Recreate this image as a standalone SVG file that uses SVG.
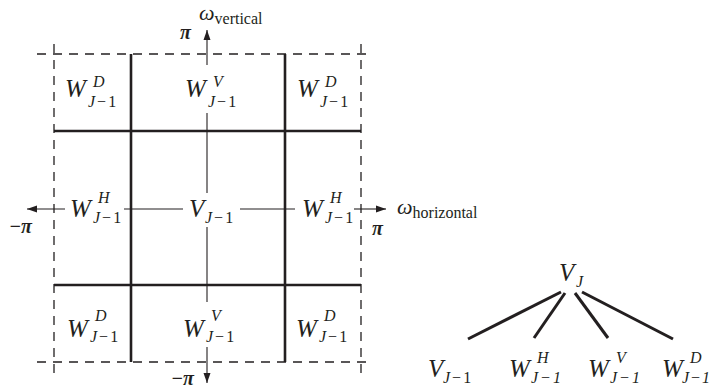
<svg xmlns="http://www.w3.org/2000/svg" width="712" height="388" viewBox="0 0 712 388">
<style>
.big{font-family:"Liberation Serif",serif;font-style:italic;font-size:25px;fill:#231f20}
.sm{font-family:"Liberation Serif",serif;font-style:italic;font-size:16px;fill:#231f20}
.rm{font-style:normal}
.txt{font-family:"Liberation Serif",serif;font-size:16px;fill:#231f20}
.pi{font-family:"Liberation Serif",serif;font-style:italic;font-weight:bold;font-size:20px;fill:#231f20}
.dash{stroke:#231f20;stroke-width:1.3;stroke-dasharray:9 7;fill:none}
.thick{stroke:#231f20;stroke-width:2.6;fill:none}
.axis{stroke:#231f20;stroke-width:1.1;fill:none}
.tree{stroke:#231f20;stroke-width:3;fill:none}
</style>
<defs>
<marker id="ah" viewBox="0 0 10 10" refX="10" refY="5" markerWidth="10" markerHeight="10" markerUnits="userSpaceOnUse" orient="auto">
<path d="M0,1.5 L10,5 L0,8.5 z" fill="#231f20"/>
</marker>
</defs>
<g id="grid">
<line class="dash" x1="37" y1="54" x2="368" y2="54"/>
<line class="dash" x1="37" y1="362" x2="368" y2="362"/>
<line class="dash" x1="54" y1="44" x2="54" y2="373"/>
<line class="dash" x1="361" y1="44" x2="361" y2="373"/>
<line class="thick" x1="131" y1="54" x2="131" y2="362"/>
<line class="thick" x1="285" y1="54" x2="285" y2="362"/>
<line class="thick" x1="54" y1="131" x2="361" y2="131"/>
<line class="thick" x1="54" y1="285" x2="361" y2="285"/>
</g>
<g id="axes">
<line class="axis" x1="207" y1="65" x2="207" y2="30" marker-end="url(#ah)"/>
<line class="axis" x1="207" y1="113" x2="207" y2="193"/>
<line class="axis" x1="207" y1="227" x2="207" y2="302"/>
<line class="axis" x1="207" y1="347" x2="207" y2="383" marker-end="url(#ah)"/>
<line class="axis" x1="65" y1="209" x2="27" y2="209" marker-end="url(#ah)"/>
<line class="axis" x1="124" y1="209" x2="183" y2="209"/>
<line class="axis" x1="240" y1="209" x2="295" y2="209"/>
<line class="axis" x1="354" y1="209" x2="386" y2="209" marker-end="url(#ah)"/>
<text class="pi" x="180" y="39">π</text>
<text class="big" x="199" y="20" style="font-size:22px">ω<tspan class="txt" style="font-style:normal" dy="4">vertical</tspan></text>
<text class="pi" x="9" y="233">−π</text>
<text class="pi" x="372" y="235">π</text>
<text class="big" x="397" y="214" style="font-size:22px">ω<tspan class="txt" style="font-style:normal" dy="4">horizontal</tspan></text>
<text class="pi" x="171" y="385">−π</text>
</g>
<g id="cell-tl"><text class="big" x="65" y="97">W</text><text class="sm" x="93" y="87">D</text><text class="sm" x="88" y="107">J<tspan class="rm" dx="2">−</tspan><tspan class="rm" dx="2">1</tspan></text></g>
<g id="cell-tc"><text class="big" x="185" y="97">W</text><text class="sm" x="213" y="87">V</text><text class="sm" x="208" y="107">J<tspan class="rm" dx="2">−</tspan><tspan class="rm" dx="2">1</tspan></text></g>
<g id="cell-tr"><text class="big" x="297" y="97">W</text><text class="sm" x="325" y="87">D</text><text class="sm" x="320" y="107">J<tspan class="rm" dx="2">−</tspan><tspan class="rm" dx="2">1</tspan></text></g>
<g id="cell-ml"><text class="big" x="70" y="217">W</text><text class="sm" x="98" y="203">H</text><text class="sm" x="93" y="223">J<tspan class="rm" dx="2">−</tspan><tspan class="rm" dx="2">1</tspan></text></g>
<g id="cell-mc"><text class="big" x="189" y="217">V</text><text class="sm" x="205" y="223">J<tspan class="rm" dx="2">−</tspan><tspan class="rm" dx="2">1</tspan></text></g>
<g id="cell-mr"><text class="big" x="302" y="217">W</text><text class="sm" x="330" y="203">H</text><text class="sm" x="325" y="223">J<tspan class="rm" dx="2">−</tspan><tspan class="rm" dx="2">1</tspan></text></g>
<g id="cell-bl"><text class="big" x="67" y="337">W</text><text class="sm" x="95" y="321">D</text><text class="sm" x="90" y="342">J<tspan class="rm" dx="2">−</tspan><tspan class="rm" dx="2">1</tspan></text></g>
<g id="cell-bc"><text class="big" x="183" y="337">W</text><text class="sm" x="211" y="321">V</text><text class="sm" x="206" y="342">J<tspan class="rm" dx="2">−</tspan><tspan class="rm" dx="2">1</tspan></text></g>
<g id="cell-br"><text class="big" x="296" y="337">W</text><text class="sm" x="324" y="321">D</text><text class="sm" x="319" y="342">J<tspan class="rm" dx="2">−</tspan><tspan class="rm" dx="2">1</tspan></text></g>
<g id="node-VJ"><text class="big" x="559" y="281">V</text><text class="sm" x="576" y="287">J</text></g>
<g id="node-V"><text class="big" x="428" y="377">V</text><text class="sm" x="443" y="383">J<tspan class="rm" dx="2">−</tspan><tspan class="rm" dx="2">1</tspan></text></g>
<g id="node-WH"><text class="big" x="509" y="377">W</text><text class="sm" x="537" y="363">H</text><text class="sm" x="531" y="383">J<tspan dx="2">−</tspan><tspan dx="2">1</tspan></text></g>
<g id="node-WV"><text class="big" x="588" y="377">W</text><text class="sm" x="616" y="363">V</text><text class="sm" x="610" y="383">J<tspan dx="2">−</tspan><tspan dx="2">1</tspan></text></g>
<g id="node-WD"><text class="big" x="662" y="377">W</text><text class="sm" x="690" y="363">D</text><text class="sm" x="682" y="383">J<tspan dx="1">−</tspan><tspan dx="1">1</tspan></text></g>
<g id="connectors">
<line class="tree" x1="561" y1="292" x2="468" y2="339"/>
<line class="tree" x1="565" y1="293" x2="534" y2="338"/>
<line class="tree" x1="575" y1="293" x2="608" y2="338"/>
<line class="tree" x1="582" y1="292" x2="673" y2="339"/>
</g>
</svg>
